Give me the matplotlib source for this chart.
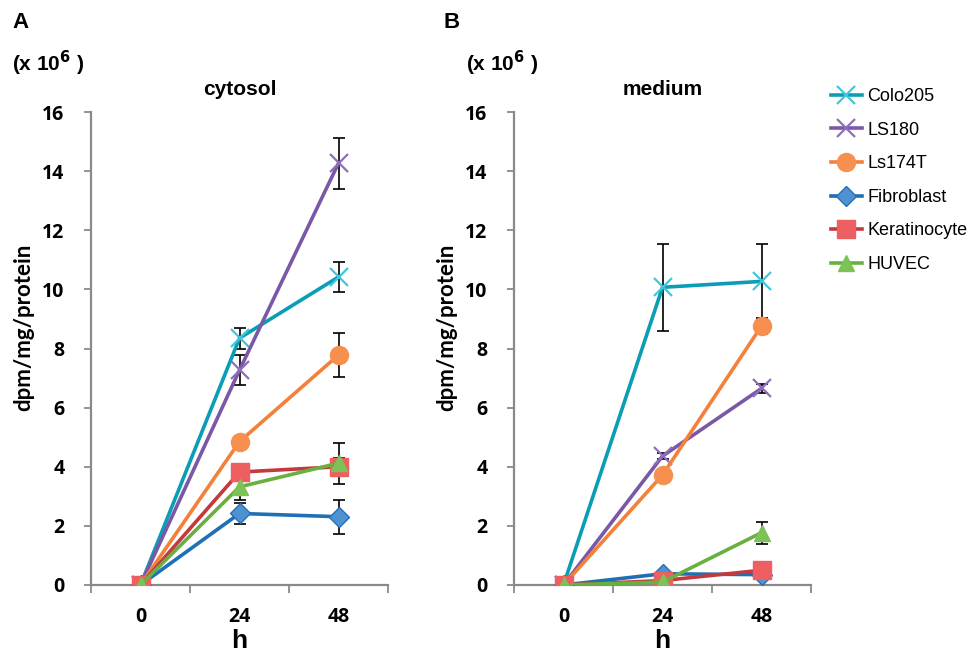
import matplotlib
matplotlib.use("Agg")
import matplotlib.pyplot as plt
import numpy as np

hours = ["0", "24", "48"]
cell_lines = ["Colo205", "LS180", "Ls174T", "Fibroblast", "Keratinocyte", "HUVEC"]

cytosol = {
    "Colo205": [0, 8.35, 10.42],
    "LS180": [0, 7.27, 14.27],
    "Ls174T": [0, 4.85, 7.78],
    "Fibroblast": [0, 2.42, 2.31],
    "Keratinocyte": [0, 3.82, 4.0],
    "HUVEC": [0, 3.32, 4.12],
}
cytosol_err = {
    "Colo205": [0, 0.35, 0.52],
    "LS180": [0, 0.5, 0.86],
    "Ls174T": [0, 0.1, 0.76],
    "Fibroblast": [0, 0.37, 0.58],
    "Keratinocyte": [0, 0.15, 0.3],
    "HUVEC": [0, 0.45, 0.7],
}
medium = {
    "Colo205": [0, 10.07, 10.27],
    "LS180": [0, 4.36, 6.65],
    "Ls174T": [0, 3.72, 8.76],
    "Fibroblast": [0, 0.38, 0.35],
    "Keratinocyte": [0, 0.15, 0.5],
    "HUVEC": [0, 0.1, 1.77],
}
medium_err = {
    "Colo205": [0, 1.48, 1.27],
    "LS180": [0, 0.1, 0.15],
    "Ls174T": [0, 0.1, 0.28],
    "Fibroblast": [0, 0.05, 0.05],
    "Keratinocyte": [0, 0.05, 0.1],
    "HUVEC": [0, 0.05, 0.37],
}

styles = {
    "Colo205": dict(color="#0A9DB5", marker="x", mfc="#3EC7DA", mec="#3EC7DA", ms=13, mew=1.6),
    "LS180": dict(color="#7A58A6", marker="x", mfc="#8E6DBA", mec="#8E6DBA", ms=13, mew=1.6),
    "Ls174T": dict(color="#F4813A", marker="o", mfc="#F7904E", mec="#F7904E", ms=13),
    "Fibroblast": dict(color="#1F6FB5", marker="D", mfc="#4D92D2", mec="#2A6FB0", ms=10),
    "Keratinocyte": dict(color="#C4393D", marker="s", mfc="#EE5F62", mec="#EE5F62", ms=13),
    "HUVEC": dict(color="#6AB040", marker="^", mfc="#7CC257", mec="#7CC257", ms=12),
}

tick_font = "Open Sans"
text_font = "Liberation Sans"

fig = plt.figure(figsize=(9.71, 6.55), dpi=100)
ax1 = fig.add_axes([91 / 971, 70 / 655, 297 / 971, 473 / 655])
ax2 = fig.add_axes([514 / 971, 70 / 655, 297 / 971, 473 / 655])

x = np.arange(len(hours))


def draw_panel(ax, data, err, title):
    for name in cell_lines:
        ax.errorbar(x, data[name], yerr=err[name], fmt="none", ecolor="black",
                    elinewidth=1.2, capsize=4, capthick=1.2, zorder=2)
    for name in cell_lines:
        st = styles[name]
        ax.plot(x, data[name], color=st["color"], lw=2.6, marker=st["marker"],
                markerfacecolor=st["mfc"], markeredgecolor=st["mec"],
                markersize=st["ms"], markeredgewidth=st.get("mew", 1.0),
                label=name, zorder=3)
    ax.set_xlim(-0.5, 2.5)
    ax.set_ylim(0, 16)
    ax.set_yticks(np.arange(0, 17, 2))
    ax.set_xticks(x)
    ax.set_xticklabels(hours)
    ax.set_xticks([-0.5, 0.5, 1.5, 2.5], minor=True)
    ax.tick_params(axis="x", which="major", length=0, pad=16)
    ax.tick_params(axis="x", which="minor", length=6, width=1.3, color="#8a8a8a", direction="out")
    ax.tick_params(axis="y", length=5, width=1.3, color="#8a8a8a", direction="out", pad=14)
    for lab in ax.get_xticklabels() + ax.get_yticklabels():
        lab.set_fontfamily(tick_font)
        lab.set_fontweight("bold")
        lab.set_fontsize(14)
    for s in ["top", "right"]:
        ax.spines[s].set_visible(False)
    for s in ["left", "bottom"]:
        ax.spines[s].set_color("#8a8a8a")
        ax.spines[s].set_linewidth(1.6)
    ax.set_ylabel("dpm/mg/protein", fontfamily="Lato", fontweight="bold", fontsize=16)
    ax.yaxis.set_label_coords(-0.19, 0.545)
    ax.set_xlabel("h", fontfamily=text_font, fontweight="bold", fontsize=19, labelpad=1)
    ax.set_title(title, fontfamily=text_font, fontweight="bold", fontsize=15, pad=12)


draw_panel(ax1, cytosol, cytosol_err, "cytosol")
draw_panel(ax2, medium, medium_err, "medium")

fig.text(12 / 971, 1 - 23 / 655, "A", fontfamily=text_font, fontweight="bold",
         fontsize=16, va="center", ha="left")
fig.text(443 / 971, 1 - 23 / 655, "B", fontfamily=text_font, fontweight="bold",
         fontsize=16, va="center", ha="left")
fig.text(12 / 971, 1 - 63 / 655, r"(x 10$^{\mathbf{6}}$ )", fontfamily=text_font,
         fontweight="bold", fontsize=15, va="center", ha="left")
fig.text(466 / 971, 1 - 63 / 655, r"(x 10$^{\mathbf{6}}$ )", fontfamily=text_font,
         fontweight="bold", fontsize=15, va="center", ha="left")

handles, labels = ax1.get_legend_handles_labels()
fig.legend(handles, labels, loc="upper left", bbox_to_anchor=(831 / 971, 1 - 88 / 655),
           frameon=False, prop={"family": text_font, "size": 13},
           handlelength=1.7, handletextpad=0.3, labelspacing=0.92,
           borderaxespad=0, borderpad=0)

fig.savefig("out.png", dpi=100)
